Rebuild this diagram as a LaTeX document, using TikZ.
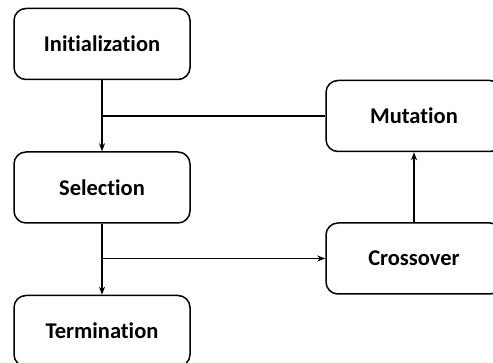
\documentclass[tikz,border=0pt]{standalone}
\usepackage{fontspec}
\setmainfont{Carlito}[Ligatures=NoCommon]
\usetikzlibrary{arrows.meta}

\tikzset{
  stage/.style={draw, line width=1.5pt, rounded corners=12pt, minimum width=176pt,
    minimum height=71pt, font=\fontsize{22.5}{26}\selectfont\bfseries, fill=white},
  flow/.style={line width=1.7pt}
}

\begin{document}
\begin{tikzpicture}[x=1pt,y=-1pt,>={Stealth[length=8pt,width=6pt]}]
				% fix the frame
				\clip (0,0) rectangle (493,363);
				\useasboundingbox (0,0) rectangle (493,363);
				
				% draw stages
				\node[stage] (init) at (102,44) {Initialization};
				\node[stage] (sel) at (102,187.5) {Selection};
				\node[stage] (term) at (102,331) {Termination};
				\node[stage] (mut) at (414,116) {Mutation};
				\node[stage] (cross) at (414,258.5) {Crossover};
				
				% junctions on the main line
				\coordinate (j1) at (init.south |- mut.west);
				\coordinate (j2) at (sel.south |- cross.west);
				
				% draw flow
				\draw[->, flow] (init) -- (sel);
				\draw[flow] (mut) -- (j1);
				\draw[->, flow] (sel) -- (term);
				\draw[->, flow] (j2) -- (cross);
				\draw[->, flow] (cross) -- (mut);
			\end{tikzpicture}
\end{document}
